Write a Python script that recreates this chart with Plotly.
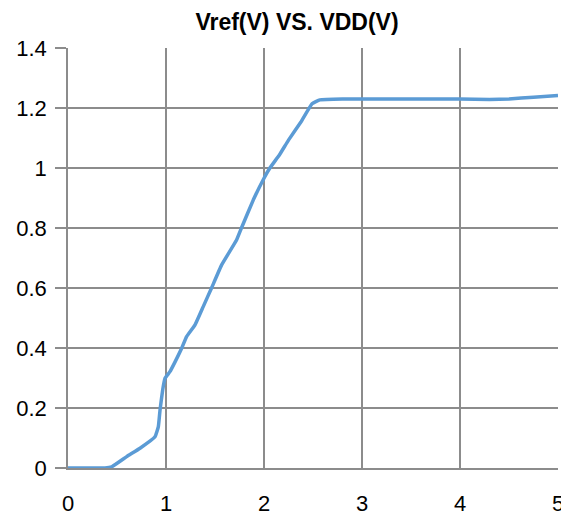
import plotly.graph_objects as go

vdd = [0, 0.2, 0.378, 0.446, 0.599, 0.735, 0.888, 0.922, 0.939, 0.966, 0.99, 1.04, 1.09, 1.16,
       1.21, 1.296, 1.38, 1.466, 1.568, 1.72, 1.77, 1.89, 2.0, 2.06, 2.16, 2.25, 2.38, 2.49, 2.57,
       2.8, 3.0, 3.5, 4.0, 4.3, 4.5, 4.75, 5.0]
vref = [0, 0, 0, 0.004, 0.038, 0.066, 0.104, 0.138, 0.193, 0.26, 0.299, 0.321, 0.352, 0.399,
        0.438, 0.477, 0.538, 0.601, 0.677, 0.76, 0.80, 0.893, 0.966, 1.0, 1.045, 1.093, 1.155, 1.214, 1.227,
        1.23, 1.23, 1.23, 1.23, 1.228, 1.23, 1.236, 1.242]

x_ticks = [0, 1, 2, 3, 4, 5]
y_ticks = [0, 0.2, 0.4, 0.6, 0.8, 1.0, 1.2, 1.4]
y_labels = ["0", "0.2", "0.4", "0.6", "0.8", "1", "1.2", "1.4"]

fig = go.Figure()
fig.add_trace(go.Scatter(x=vdd, y=vref, mode="lines",
                         line=dict(color="#5B9BD5", width=3.5, shape="spline", smoothing=0.3),
                         showlegend=False, hoverinfo="x+y"))

# page has an 8px body margin: figure is drawn from (8, 8)
W, H = 561, 512
grid = "#8C8C8C"
fig.update_layout(
    width=W, height=H,
    margin=dict(l=60, r=11, t=40, b=52, autoexpand=False),
    paper_bgcolor="white", plot_bgcolor="white",
    title=dict(text="<b>Vref(V) VS. VDD(V)</b>", x=289 / W, xanchor="center", xref="container",
               y=1 - 13.5 / H, yanchor="middle", yref="container",
               font=dict(family="Liberation Sans, Arial, sans-serif", size=23, color="#000000")),
    font=dict(family="Liberation Sans, Arial, sans-serif", size=22, color="#000000"),
    xaxis=dict(range=[0, 5], tickvals=x_ticks, ticktext=[str(v) for v in x_ticks],
               showgrid=True, gridcolor=grid, gridwidth=1.5, zeroline=False,
               showline=True, linecolor=grid, linewidth=1.5, mirror=False,
               ticks="", ticklabelstandoff=15, tickfont=dict(size=22), automargin=False),
    yaxis=dict(range=[0, 1.4], tickvals=y_ticks, ticktext=y_labels,
               showgrid=True, gridcolor=grid, gridwidth=1.5, zeroline=False,
               showline=True, linecolor=grid, linewidth=1.5,
               ticks="outside", ticklen=11, tickcolor=grid, tickwidth=1.5,
               ticklabelstandoff=4, tickfont=dict(size=22), automargin=False),
)
fig.write_html("out.html")
